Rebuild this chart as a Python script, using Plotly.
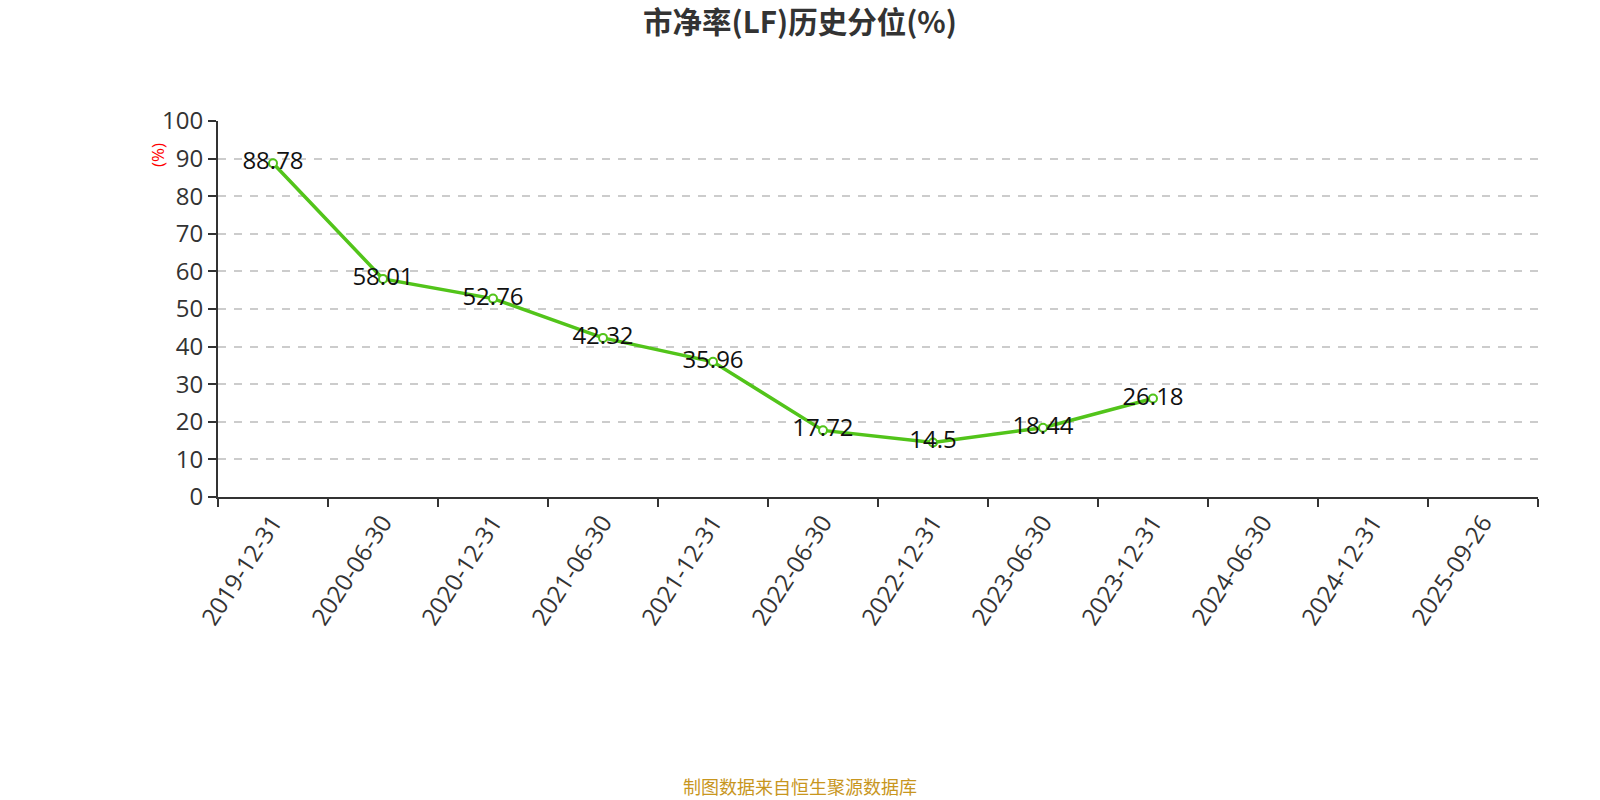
import plotly.graph_objects as go

categories = ["2019-12-31", "2020-06-30", "2020-12-31", "2021-06-30", "2021-12-31",
              "2022-06-30", "2022-12-31", "2023-06-30", "2023-12-31", "2024-06-30",
              "2024-12-31", "2025-09-26"]
values = [88.78, 58.01, 52.76, 42.32, 35.96, 17.72, 14.5, 18.44, 26.18]
value_labels = ["88.78", "58.01", "52.76", "42.32", "35.96", "17.72", "14.5", "18.44", "26.18"]
y_ticks = [0, 10, 20, 30, 40, 50, 60, 70, 80, 90, 100]

FONT = "Open Sans, Noto Sans CJK SC, sans-serif"
GREEN = "#52c41a"

fig = go.Figure()
fig.add_trace(go.Scatter(
    x=categories[:len(values)], y=values,
    mode="lines+markers+text",
    text=value_labels, textposition="middle center",
    textfont=dict(family=FONT, size=24, color="#111111"),
    line=dict(color=GREEN, width=3.5),
    marker=dict(symbol="circle", size=8, color="white", line=dict(color=GREEN, width=2)),
    cliponaxis=False, hoverinfo="x+y", showlegend=False,
))

fig.update_layout(
    width=1600, height=800,
    paper_bgcolor="white", plot_bgcolor="white",
    margin=dict(l=218, r=62, t=121, b=303),
    title=dict(text="<b>市净率(LF)历史分位(%)</b>", x=0.5, xanchor="center",
               y=1 - 23 / 800, yanchor="middle", yref="container",
               font=dict(family="Noto Sans CJK SC, sans-serif", size=29.5, color="#333333")),
    xaxis=dict(
        type="category", categoryorder="array", categoryarray=categories,
        range=[-0.5, len(categories) - 0.5],
        tickmode="array", tickvals=categories, ticktext=categories,
        tickson="boundaries", ticks="outside", ticklen=8, tickwidth=2, tickcolor="#333333",
        showline=True, linecolor="#333333", linewidth=2,
        showgrid=False, zeroline=False,
        tickangle=-57,
        tickfont=dict(family=FONT, size=24, color="#333333"),
    ),
    yaxis=dict(
        range=[0, 100], tickmode="array", tickvals=y_ticks,
        ticks="outside", ticklen=8, tickwidth=2, tickcolor="#333333",
        showline=True, linecolor="#333333", linewidth=2,
        showgrid=True, gridcolor="#cccccc", gridwidth=1.5, griddash="8px,8px",
        zeroline=False,
        tickfont=dict(family=FONT, size=24, color="#333333"),
    ),
)

fig.add_annotation(
    text="(%)", xref="paper", yref="paper", x=(157 - 218) / 1320, y=(497 - 155) / 376,
    xanchor="center", yanchor="middle", textangle=-90, showarrow=False,
    font=dict(family=FONT, size=17, color="#ff0000"),
)
fig.add_annotation(
    text="制图数据来自恒生聚源数据库", xref="paper", yref="paper",
    x=(800 - 218) / 1320, y=-(786 - 497) / 376, xanchor="center", yanchor="middle",
    showarrow=False,
    font=dict(family="Noto Sans CJK SC, sans-serif", size=18, color="#c8961e"),
)

fig.write_html(
    "out.html",
    config={"displayModeBar": False},
    post_script="document.body.style.margin='0';document.body.style.overflow='hidden';",
)
